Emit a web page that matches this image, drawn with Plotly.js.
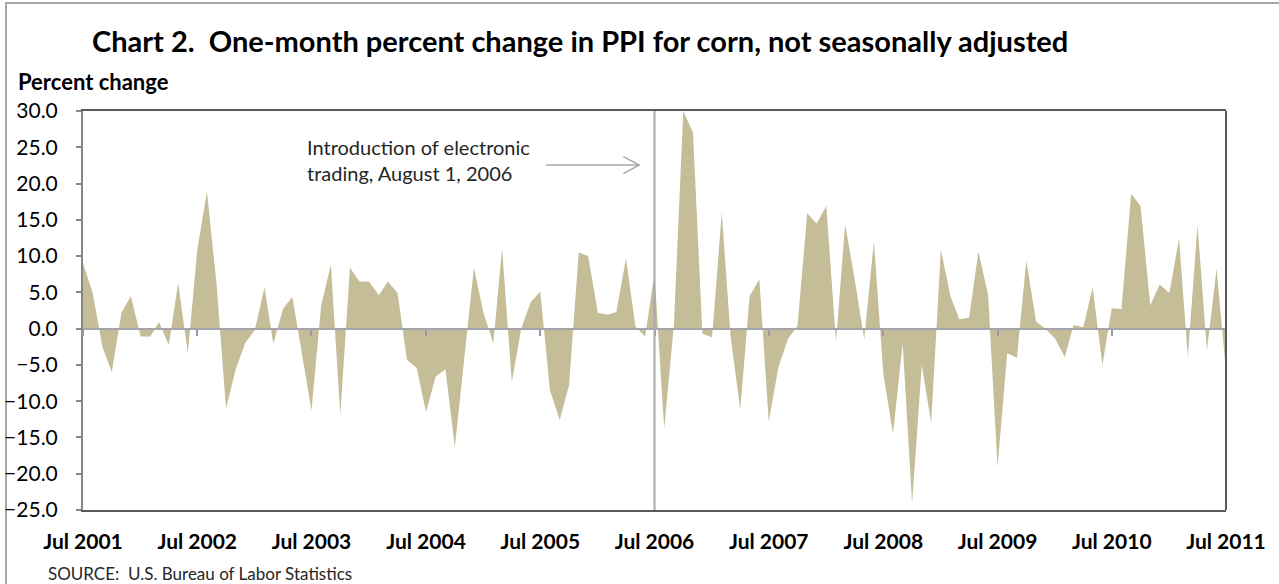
<!DOCTYPE html>
<html>
<head>
<meta charset="utf-8">
<script src="https://cdn.plot.ly/plotly-3.0.1.min.js"></script>
<style>
  html, body { margin: 0; padding: 0; background: #ffffff; }
  #chart { width: 1279px; height: 584px; }
</style>
</head>
<body>
<div id="chart"></div>
<script>
// One-month percent change in PPI for corn, Jul 2001 - Jul 2011
const pctChange = [
  9.0, 4.9, -2.5, -6.0, 2.2, 4.5, -1.1, -1.1, 0.9, -2.3, 6.3, -3.4,
  10.8, 18.9, 6.0, -11.0, -5.6, -2.0, -0.2, 5.7, -2.1, 2.7, 4.4, -3.5,
  -11.3, 3.2, 8.8, -11.9, 8.4, 6.5, 6.5, 4.6, 6.5, 4.9, -4.3, -5.4,
  -11.5, -6.6, -5.6, -16.3, -4.0, 8.4, 2.1, -2.0, 11.1, -7.4, 0.0, 3.7,
  5.1, -8.5, -12.6, -7.8, 10.5, 10.0, 2.2, 1.9, 2.3, 9.7, 0.3, -1.1,
  7.6, -13.8, 0.5, 30.0, 27.0, -0.7, -1.2, 16.0, -1.0, -11.1, 4.5, 6.8,
  -12.8, -5.3, -1.4, 0.4, 15.9, 14.5, 16.9, -1.8, 14.4, 6.7, -1.5, 12.0,
  -6.2, -14.5, -2.0, -24.1, -5.0, -13.0, 10.9, 4.4, 1.3, 1.5, 10.6, 4.6,
  -19.1, -3.4, -4.0, 9.4, 1.0, 0.0, -1.4, -3.9, 0.5, 0.2, 5.7, -5.0,
  2.8, 2.7, 18.6, 16.9, 3.2, 6.1, 4.9, 12.4, -3.9, 14.3, -3.0, 8.3,
  -6.0
];

// Monthly categories, starting July 2001
const startYear = 2001;
const startMonth = 7;
const months = pctChange.map((_, k) => {
  const t = (startMonth - 1) + k;
  const y = startYear + Math.floor(t / 12);
  const m = (t % 12) + 1;
  return y + '-' + String(m).padStart(2, '0') + '-01';
});

// Axis ticks
const xTickVals = ['2001-07-01','2002-07-01','2003-07-01','2004-07-01','2005-07-01','2006-07-01',
                   '2007-07-01','2008-07-01','2009-07-01','2010-07-01','2011-07-01'];
const xTickText = ['Jul 2001','Jul 2002','Jul 2003','Jul 2004','Jul 2005','Jul 2006',
                   'Jul 2007','Jul 2008','Jul 2009','Jul 2010','Jul 2011'];
const yTickVals = [30, 25, 20, 15, 10, 5, 0, -5, -10, -15, -20, -25];
const yRange = [-25, 30];
const eventMonth = '2006-07-01';   // electronic trading introduced Aug 1, 2006

const FONT = 'Lato, "Open Sans", sans-serif';

const traces = [
  {
    type: 'scatter',
    mode: 'lines',
    x: months,
    y: pctChange,
    fill: 'tozeroy',
    fillcolor: '#C4BD97',
    line: { width: 0, color: '#C4BD97' },
    hoverinfo: 'x+y',
    showlegend: false
  },
  {
    type: 'scatter',
    mode: 'none',
    x: [months[0]],
    y: [0],
    xaxis: 'x2',
    hoverinfo: 'skip',
    showlegend: false
  }
];

const layout = {
  width: 1279,
  height: 584,
  margin: { l: 83, r: 53, t: 111, b: 74 },
  paper_bgcolor: '#ffffff',
  plot_bgcolor: '#ffffff',
  font: { family: FONT, color: '#000000' },
  title: {
    text: '<b>Chart 2.  One-month percent change in PPI for corn, not seasonally adjusted</b>',
    xref: 'container', yref: 'container',
    x: 92 / 1279, xanchor: 'left',
    y: 1 - 42 / 584, yanchor: 'middle',
    font: { family: FONT, size: 29, color: '#000000' }
  },
  xaxis: {
    type: 'date',
    range: [months[0], months[months.length - 1]],
    tickmode: 'array',
    tickvals: xTickVals,
    ticktext: xTickText,
    ticks: 'outside',
    ticklen: 12,
    tickcolor: 'rgba(0,0,0,0)',
    tickfont: { family: FONT, size: 21, color: '#000000', weight: 'bold' },
    showgrid: false,
    zeroline: false,
    showline: true,
    mirror: true,
    linecolor: '#595959',
    linewidth: 2
  },
  xaxis2: {
    type: 'date',
    overlaying: 'x',
    anchor: 'free',
    position: (0 - yRange[0]) / (yRange[1] - yRange[0]),
    side: 'bottom',
    range: [months[0], months[months.length - 1]],
    tickmode: 'array',
    tickvals: xTickVals,
    showticklabels: false,
    ticks: 'outside',
    ticklen: 6,
    tickwidth: 2,
    tickcolor: '#9A9AA2',
    showgrid: false,
    zeroline: false,
    showline: true,
    linecolor: '#A4A4AC',
    linewidth: 2
  },
  yaxis: {
    range: yRange,
    tickmode: 'array',
    tickvals: yTickVals,
    tickformat: '.1f',
    ticks: 'outside',
    ticklen: 5,
    tickwidth: 2,
    tickcolor: '#868686',
    ticklabelstandoff: 14,
    tickfont: { family: FONT, size: 21, color: '#000000' },
    showgrid: false,
    zeroline: false,
    showline: true,
    linecolor: '#868686',
    linewidth: 2
  },
  shapes: [
    // outer chart border
    { type: 'rect', xref: 'paper', yref: 'paper', x0: -0.0674, x1: 1.2, y0: -0.4, y1: 1.2707,
      line: { color: '#A6A6A6', width: 2 }, fillcolor: 'rgba(0,0,0,0)', layer: 'below' },
    // right edge of plot area
    { type: 'line', xref: 'paper', yref: 'paper', x0: 1, x1: 1, y0: 0, y1: 1,
      line: { color: '#595959', width: 2 } },
    // event line
    { type: 'line', xref: 'x', yref: 'paper', x0: eventMonth, x1: eventMonth, y0: 0, y1: 1,
      line: { color: '#A8A8AE', width: 2 }, layer: 'above' },
    // arrow shaft
    { type: 'line', xref: 'paper', yref: 'paper', x0: 0.4051, x1: 0.4866, y0: 0.8647, y1: 0.8647,
      line: { color: '#A8A8AE', width: 1.5 } },
    // arrow head (open chevron)
    { type: 'path', xref: 'paper', yref: 'paper',
      path: 'M 0.4728 0.8855 L 0.4866 0.8647 L 0.4728 0.8430',
      line: { color: '#A8A8AE', width: 1.5 } }
  ],
  annotations: [
    { xref: 'paper', yref: 'paper', x: -0.0586, y: 1.0727, xanchor: 'left', yanchor: 'middle',
      text: '<b>Percent change</b>', showarrow: false,
      font: { family: FONT, size: 22, color: '#000000' } },
    { xref: 'paper', yref: 'paper', x: 0.1942, y: 0.8784, xanchor: 'left', yanchor: 'middle',
      align: 'left', text: 'Introduction of electronic<br>trading, August 1, 2006', showarrow: false,
      font: { family: FONT, size: 20, color: '#262626' } },
    { xref: 'paper', yref: 'paper', x: -0.0324, y: -0.1579, xanchor: 'left', yanchor: 'middle',
      text: 'SOURCE:  U.S. Bureau of Labor Statistics', showarrow: false,
      font: { family: FONT, size: 17, color: '#262626' } }
  ]
};

Plotly.newPlot('chart', traces, layout, { displayModeBar: false, staticPlot: true });
</script>
</body>
</html>
